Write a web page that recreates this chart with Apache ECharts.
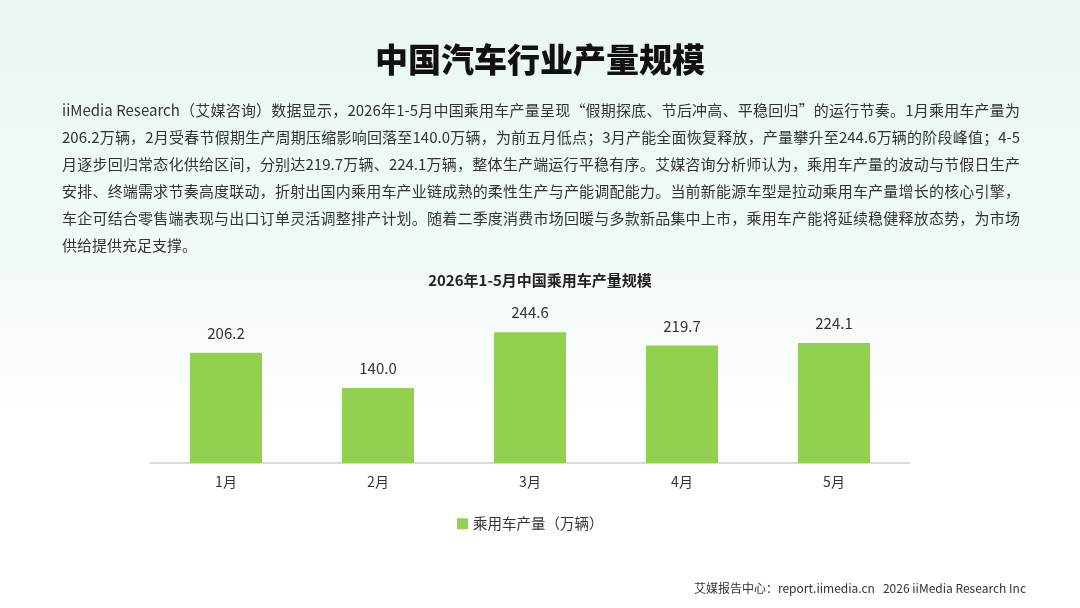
<!DOCTYPE html>
<html><head><meta charset="utf-8">
<script src="https://cdn.jsdelivr.net/npm/echarts@6/dist/echarts.min.js"></script>
<style>
html,body{margin:0;padding:0;width:1080px;height:608px;overflow:hidden;}
body{background:linear-gradient(180deg,#e9f7f0 0%,#f0faf5 35%,#f8fcfa 58%,#ffffff 68%,#ffffff 100%);font-family:"Noto Sans CJK SC","Noto Sans",sans-serif;}
#main{position:absolute;left:0;top:0;width:1080px;height:608px;}
#para{position:absolute;left:62px;top:96px;width:958px;font-size:15px;line-height:27px;color:#333;}
#para div{text-align:justify;text-align-last:justify;white-space:nowrap;}
#para div.last{text-align-last:left;}
</style></head><body>
<div id="main"></div>
<div id="para"></div>
<script>
var pageTitle = '中国汽车行业产量规模';
var paraLines = [
 'iiMedia Research（艾媒咨询）数据显示，2026年1-5月中国乘用车产量呈现“假期探底、节后冲高、平稳回归”的运行节奏。1月乘用车产量为',
 '206.2万辆，2月受春节假期生产周期压缩影响回落至140.0万辆，为前五月低点；3月产能全面恢复释放，产量攀升至244.6万辆的阶段峰值；4-5',
 '月逐步回归常态化供给区间，分别达219.7万辆、224.1万辆，整体生产端运行平稳有序。艾媒咨询分析师认为，乘用车产量的波动与节假日生产',
 '安排、终端需求节奏高度联动，折射出国内乘用车产业链成熟的柔性生产与产能调配能力。当前新能源车型是拉动乘用车产量增长的核心引擎，',
 '车企可结合零售端表现与出口订单灵活调整排产计划。随着二季度消费市场回暖与多款新品集中上市，乘用车产能将延续稳健释放态势，为市场',
 '供给提供充足支撑。'
];
var chartTitle = '2026年1-5月中国乘用车产量规模';
var categories = ['1月','2月','3月','4月','5月'];
var seriesName = '乘用车产量（万辆）';
var values = [206.2, 140.0, 244.6, 219.7, 224.1];
var footer = '艾媒报告中心：report.iimedia.cn   2026 iiMedia Research Inc';

var para = document.getElementById('para');
paraLines.forEach(function(t,i){
  var d = document.createElement('div');
  d.textContent = t;
  if (i === paraLines.length-1) d.className = 'last';
  para.appendChild(d);
});

var chart = echarts.init(document.getElementById('main'));
var font = '"Noto Sans CJK SC","Noto Sans",sans-serif';
chart.setOption({
  backgroundColor: 'transparent',
  animation: false,
  textStyle: {fontFamily: font},
  title: [
    {text: pageTitle, left: 'center', top: 38, textStyle: {fontSize: 33, fontWeight: 900, color: '#111', fontFamily: font}},
    {text: chartTitle, left: 'center', top: 268, textStyle: {fontSize: 15, fontWeight: 'bold', color: '#222', fontFamily: font}},
    {text: footer, right: 49, top: 577, textStyle: {fontSize: 12, fontWeight: 'normal', color: '#333', fontFamily: font}}
  ],
  legend: {
    data: [seriesName], bottom: 72, left: 452,
    itemWidth: 11, itemHeight: 11, itemGap: 6, icon: 'rect',
    textStyle: {fontSize: 14.5, color: '#333', fontFamily: font}
  },
  grid: {left: 150, right: 170, top: 302.5, bottom: 145, containLabel: false},
  xAxis: {
    type: 'category', data: categories,
    axisLine: {lineStyle: {color: '#d0d0d0', width: 1.5}},
    axisTick: {show: false},
    axisLabel: {fontSize: 14, color: '#333', margin: 12, fontFamily: font}
  },
  yAxis: {
    type: 'value', min: 0, max: 300, interval: 100, show: false,
    splitLine: {show: false}
  },
  series: [{
    name: seriesName, type: 'bar', data: values, barWidth: 72,
    itemStyle: {color: '#92d050'},
    label: {show: true, position: 'top', distance: 12, fontSize: 15, color: '#333',
      formatter: function(p){ return p.value.toFixed(1); }}
  }]
});
</script>
</body></html>
